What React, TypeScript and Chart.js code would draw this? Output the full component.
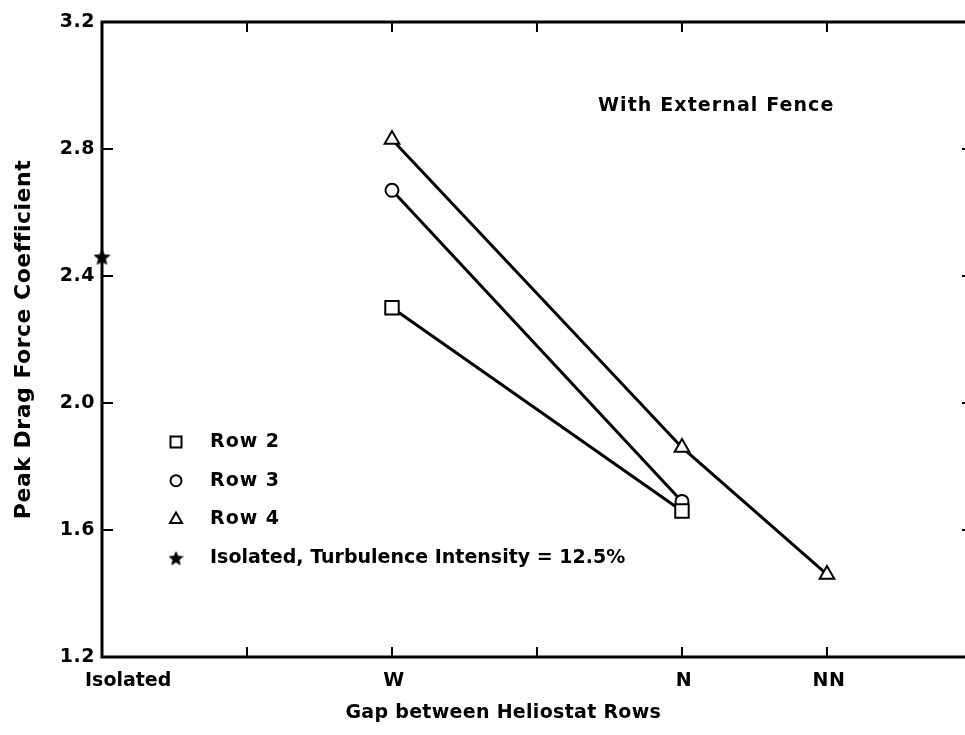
import React, { useEffect, useRef } from 'react';
import { Chart, registerables } from 'chart.js';

Chart.register(...registerables);

// ---- data ----
const gapLabels = ['Isolated', 'W', 'N', 'NN'];
const gapValues = [0, 1, 2, 2.5];
const xMinorTicks = [0.5, 1, 1.5, 2, 2.5];
const xRange = [0, 2.976];
const yRange = [1.2, 3.2];
const yTickValues = [1.2, 1.6, 2.0, 2.4, 2.8, 3.2];
const yInnerTicks = [1.6, 2.0, 2.4, 2.8];

const row2X = [1, 2];
const row2Y = [2.3, 1.66];
const row3X = [1, 2];
const row3Y = [2.67, 1.69];
const row4X = [1, 2, 2.5];
const row4Y = [2.83, 1.86, 1.46];
const isolatedX = [0];
const isolatedY = [2.46];

const legendLabels = ['Row 2', 'Row 3', 'Row 4', 'Isolated, Turbulence Intensity = 12.5%'];
const annotationText = 'With External Fence';
const xTitle = 'Gap between Heliostat Rows';
const yTitle = 'Peak Drag Force Coefficient';

const FONT_FAMILY = '"DejaVu Sans", sans-serif';
const FONT_SIZE = 19;
const FONT = `bold ${FONT_SIZE}px ${FONT_FAMILY}`;
const SPACING = '0.5px';

const toPoints = (xs: number[], ys: number[]) => xs.map((x, i) => ({ x, y: ys[i] }));

function makeStar(size: number): HTMLCanvasElement {
  const c = document.createElement('canvas');
  c.width = size;
  c.height = size;
  const g = c.getContext('2d')!;
  const cx = size / 2, cy = size / 2 + 0.7;
  const ro = size / 2 - 0.3, ri = ro * 0.45;
  g.beginPath();
  for (let i = 0; i < 10; i++) {
    const r = i % 2 === 0 ? ro : ri;
    const a = -Math.PI / 2 + (i * Math.PI) / 5;
    const px = cx + r * Math.cos(a), py = cy + r * Math.sin(a);
    if (i === 0) g.moveTo(px, py); else g.lineTo(px, py);
  }
  g.closePath();
  g.fillStyle = '#000';
  g.fill();
  g.strokeStyle = '#000';
  g.lineWidth = 0.8;
  g.stroke();
  return c;
}

function drawMarker(ctx: CanvasRenderingContext2D, kind: string, x: number, y: number, star: HTMLCanvasElement) {
  ctx.save();
  ctx.strokeStyle = '#000';
  ctx.fillStyle = '#fff';
  ctx.lineWidth = 2;
  ctx.beginPath();
  if (kind === 'rect') {
    ctx.rect(x - 5.5, y - 5.5, 11, 11);
    ctx.fill(); ctx.stroke();
  } else if (kind === 'circle') {
    ctx.arc(x, y, 5.5, 0, Math.PI * 2);
    ctx.fill(); ctx.stroke();
  } else if (kind === 'triangle') {
    const r = 7;
    ctx.moveTo(x, y - r);
    ctx.lineTo(x + r * 0.866, y + r / 2);
    ctx.lineTo(x - r * 0.866, y + r / 2);
    ctx.closePath();
    ctx.fill(); ctx.stroke();
  } else {
    ctx.drawImage(star, x - star.width / 2, y - star.height / 2);
  }
  ctx.restore();
}

export default function App() {
  const ref = useRef<HTMLCanvasElement | null>(null);

  useEffect(() => {
    if (!ref.current) return;
    const star = makeStar(17);
    const legendStar = makeStar(15);
    const legendKinds = ['rect', 'circle', 'triangle', 'star'];

    const decor = {
      id: 'decor',
      beforeUpdate(chart: any) { chart.ctx.letterSpacing = SPACING; },
      beforeDraw(chart: any) {
        const ctx = chart.ctx;
        ctx.save();
        ctx.fillStyle = '#fff';
        ctx.fillRect(0, 0, chart.width, chart.height);
        ctx.restore();
        ctx.letterSpacing = SPACING;
      },
      beforeDatasetsDraw(chart: any) {
        const { ctx, chartArea: a, scales } = chart;
        ctx.save();
        ctx.strokeStyle = '#000';
        ctx.lineWidth = 3;
        ctx.lineCap = 'square';
        ctx.beginPath();
        // left, bottom, top axes (the right axis lies just beyond the page edge)
        ctx.moveTo(a.right + 2, a.top);
        ctx.lineTo(a.left, a.top);
        ctx.lineTo(a.left, a.bottom);
        ctx.lineTo(a.right + 2, a.bottom);
        ctx.stroke();
        ctx.lineCap = 'butt';
        ctx.lineWidth = 2;
        ctx.beginPath();
        for (const v of yInnerTicks) {
          const y = scales.y.getPixelForValue(v);
          ctx.moveTo(a.left, y); ctx.lineTo(a.left + 11, y);
          ctx.moveTo(a.right, y); ctx.lineTo(a.right - 3, y);
        }
        for (const v of xMinorTicks) {
          const x = scales.x.getPixelForValue(v);
          ctx.moveTo(x, a.bottom); ctx.lineTo(x, a.bottom - 10);
          ctx.moveTo(x, a.top); ctx.lineTo(x, a.top + 10);
        }
        ctx.stroke();
        ctx.restore();
      },
      afterDatasetsDraw(chart: any) {
        const { ctx, chartArea: a, scales } = chart;
        ctx.save();
        ctx.letterSpacing = SPACING;
        ctx.font = FONT;
        ctx.fillStyle = '#000';
        ctx.textBaseline = 'middle';
        // x category labels
        gapValues.forEach((v, i) => {
          const x = scales.x.getPixelForValue(v);
          if (i === 0) {
            ctx.textAlign = 'left';
            ctx.letterSpacing = '0px';
            ctx.fillText(gapLabels[i], x - 17, a.bottom + 24);
            ctx.letterSpacing = SPACING;
          } else {
            ctx.textAlign = 'center';
            ctx.fillText(gapLabels[i], x + 2, a.bottom + 24);
          }
        });
        // x title
        ctx.textAlign = 'center';
        ctx.letterSpacing = '0.3px';
        ctx.fillText(xTitle, a.left + 0.465 * (a.right - a.left), a.bottom + 56);
        // annotation
        ctx.letterSpacing = '1.1px';
        ctx.textAlign = 'left';
        ctx.fillText(annotationText, 598, 106);
        // legend
        legendLabels.forEach((lab, i) => {
          const y = 442 + i * 38.7;
          drawMarker(ctx, legendKinds[i], 176, y, legendStar);
          ctx.fillStyle = '#000';
          ctx.textAlign = 'left';
          ctx.font = FONT;
          ctx.letterSpacing = i < 3 ? '1px' : '0px';
          ctx.fillText(lab, 210, y);
        });
        ctx.restore();
      },
    };

    const common = {
      borderColor: '#000',
      backgroundColor: '#fff',
      borderWidth: 3,
      pointBorderWidth: 2,
      pointBackgroundColor: '#fff',
      pointBorderColor: '#000',
      showLine: true,
      tension: 0,
    };

    const chart = new Chart(ref.current, {
      type: 'line',
      data: {
        datasets: [
          { ...common, label: 'Row 2', data: toPoints(row2X, row2Y), pointStyle: 'rect', pointRadius: 9.5 },
          { ...common, label: 'Row 3', data: toPoints(row3X, row3Y), pointStyle: 'circle', pointRadius: 6.5 },
          { ...common, label: 'Row 4', data: toPoints(row4X, row4Y), pointStyle: 'triangle', pointRadius: 8.5 },
          { ...common, label: 'Isolated', data: toPoints(isolatedX, isolatedY), pointStyle: star as any, showLine: false, clip: false as any },
        ],
      },
      options: {
        animation: false,
        responsive: false,
        devicePixelRatio: 1,
        events: [],
        layout: { autoPadding: false, padding: { top: 22, right: 0, left: 0, bottom: 0 } },
        plugins: { legend: { display: false }, tooltip: { enabled: false } },
        scales: {
          x: {
            type: 'linear',
            min: xRange[0],
            max: xRange[1],
            grid: { display: false },
            border: { display: false },
            ticks: { display: false },
            afterFit: (s: any) => { s.height = 78; s.paddingLeft = 0; s.paddingRight = 0; },
          },
          y: {
            type: 'linear',
            min: yRange[0],
            max: yRange[1],
            grid: { display: false, drawTicks: false },
            border: { display: false },
            afterBuildTicks: (s: any) => { s.ticks = yTickValues.map((v) => ({ value: v })); },
            ticks: {
              padding: 7,
              color: '#000',
              font: { family: FONT_FAMILY, size: FONT_SIZE, weight: 'bold' },
              callback: (v: any) => Number(v).toFixed(1),
            },
            title: {
              display: true,
              text: yTitle,
              color: '#000',
              font: { family: FONT_FAMILY, size: 22, weight: 'bold' },
              padding: { top: 11, bottom: 0 },
            },
            afterFit: (s: any) => { s.width = 102; },
          },
        },
      },
      plugins: [decor],
    } as any);

    return () => chart.destroy();
  }, []);

  return (
    <div style={{ position: 'fixed', left: 0, top: 0, width: 965, height: 735, overflow: 'hidden', background: '#fff' }}>
      <canvas ref={ref} width={965} height={735} style={{ width: 965, height: 735, display: 'block' }} />
    </div>
  );
}
